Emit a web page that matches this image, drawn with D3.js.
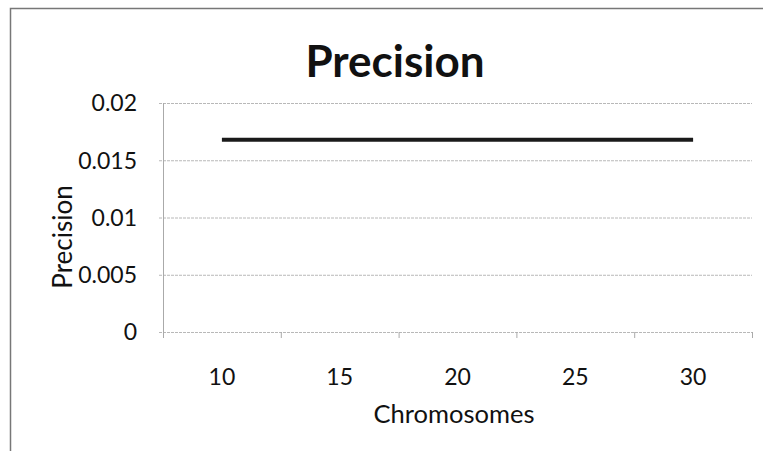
<!DOCTYPE html>
<html><head><meta charset="utf-8">
<script src="https://cdn.jsdelivr.net/npm/d3@7"></script>
<style>body{margin:0;background:#fff}svg{display:block}text{font-family:Lato,"Open Sans",sans-serif;fill:#111}</style>
</head><body>
<svg id="c" width="763" height="451"></svg>
<script>
const categories = [10, 15, 20, 25, 30];
const precision = [0.0168, 0.0168, 0.0168, 0.0168, 0.0168];
const yTicks = [0, 0.005, 0.01, 0.015, 0.02];
const yTickLabels = ["0", "0.005", "0.01", "0.015", "0.02"];

const svg = d3.select("#c");
const m = {l:163, r:752, t:103, b:332};
const x = d3.scalePoint().domain(categories).range([m.l, m.r]).padding(0.5);
const xb = d3.scaleBand().domain(categories).range([m.l, m.r]);
const y = d3.scaleLinear().domain([0, 0.02]).range([m.b, m.t]);

// frame border
svg.append("path").attr("d", `M10.5,451 V8.5 H763`).attr("fill","none").attr("stroke","#777").attr("stroke-width",1.5);

// gridlines
svg.append("g").selectAll("line").data(yTicks).join("line")
  .attr("x1", m.l - 4).attr("x2", m.r)
  .attr("y1", d => y(d) + 0.5).attr("y2", d => y(d) + 0.5)
  .attr("stroke", "#b8b8b8").attr("stroke-width", 1).attr("stroke-dasharray", "3,1");

// left axis line
svg.append("line").attr("x1", m.l + 0.5).attr("x2", m.l + 0.5).attr("y1", m.t).attr("y2", m.b + 6)
  .attr("stroke", "#aaa").attr("stroke-width", 1);

// x tick marks (between categories)
const tickPos = categories.map(c => xb(c) + xb.bandwidth());
svg.append("g").selectAll("line").data(tickPos).join("line")
  .attr("x1", d => d + 0.5).attr("x2", d => d + 0.5)
  .attr("y1", m.b).attr("y2", m.b + 6).attr("stroke", "#aaa");

// y tick labels
svg.append("g").selectAll("text").data(yTicks).join("text")
  .attr("x", 137).attr("y", d => y(d)).attr("dy", "0.36em")
  .attr("text-anchor", "end").attr("font-size", 23)
  .text((d, i) => yTickLabels[i]);

// x tick labels
svg.append("g").selectAll("text").data(categories).join("text")
  .attr("x", d => x(d)).attr("y", 385)
  .attr("text-anchor", "middle").attr("font-size", 23)
  .text(d => d);

// line
const line = d3.line().x((d, i) => x(categories[i])).y(d => y(d));
svg.append("path").datum(precision).attr("d", line)
  .attr("fill", "none").attr("stroke", "#1a1a1a").attr("stroke-width", 4);

// titles
svg.append("text").attr("x", 395).attr("y", 77).attr("text-anchor", "middle")
  .attr("font-size", 44).attr("font-weight", "bold").text("Precision");
svg.append("text").attr("x", 454).attr("y", 423).attr("text-anchor", "middle")
  .attr("font-size", 25.5).text("Chromosomes");
svg.append("text").attr("transform", "translate(72,237) rotate(-90)").attr("text-anchor", "middle")
  .attr("font-size", 26).text("Precision");
</script>
</body></html>
